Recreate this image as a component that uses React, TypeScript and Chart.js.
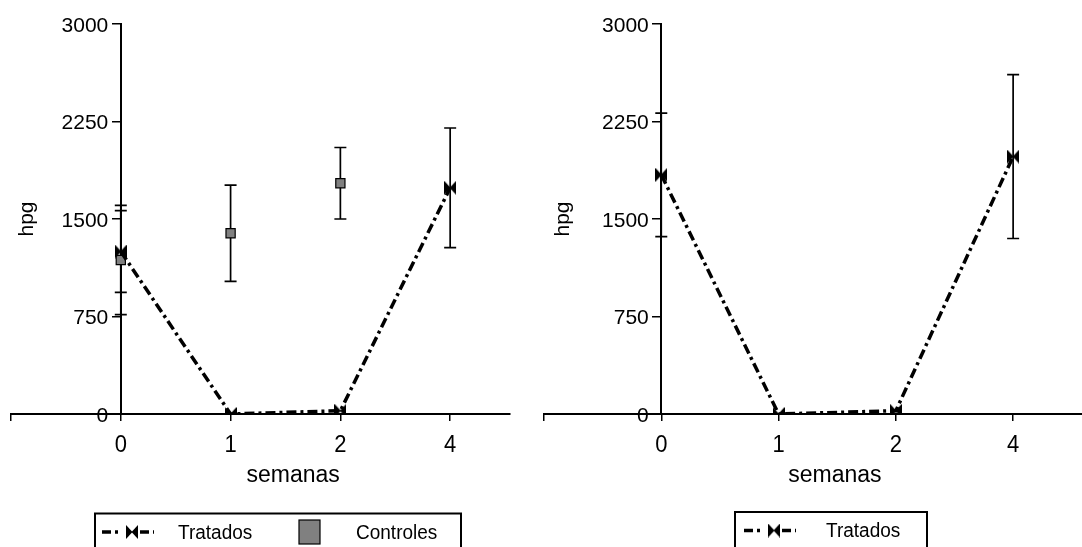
import React, { useEffect, useRef } from 'react';
import { Chart, registerables } from 'chart.js';

Chart.register(...registerables);

const FONT = '"Liberation Sans", Arial, Helvetica, sans-serif';

// ---- data ----
const weekLabels = ['0', '1', '2', '4'];
const weekPositions = [0, 1, 2, 3];
const yTickValues = [0, 750, 1500, 2250, 3000];

const leftTratados = [1250, 0, 25, 1740];
const leftTratadosErr = [315, 0, 0, 460];
const leftControles = [1185, 1390, 1775, null];
const leftControlesErr = [420, 370, 275, null];

const rightTratados = [1840, 0, 25, 1980];
const rightTratadosErr = [475, 0, 0, 630];

const xTitle = 'semanas';
const yTitle = 'hpg';

function makeBowtie(w: number, h: number) {
  const c = document.createElement('canvas');
  c.width = w;
  c.height = h;
  const ctx = c.getContext('2d')!;
  ctx.fillStyle = '#000';
  ctx.beginPath();
  ctx.moveTo(0, 0);
  ctx.lineTo(w / 2 + 0.5, h / 2);
  ctx.lineTo(0, h);
  ctx.closePath();
  ctx.fill();
  ctx.beginPath();
  ctx.moveTo(w, 0);
  ctx.lineTo(w / 2 - 0.5, h / 2);
  ctx.lineTo(w, h);
  ctx.closePath();
  ctx.fill();
  return c;
}

const DASH = [10, 4, 3, 4];

function drawText(ctx: any, text: string, x: number, y: number, size: number, sy: number, align: string) {
  ctx.save();
  ctx.font = `${size}px ${FONT}`;
  ctx.textAlign = align;
  ctx.textBaseline = 'alphabetic';
  ctx.translate(x, y);
  ctx.scale(1, sy);
  ctx.fillText(text, 0, 0);
  ctx.restore();
}

const errorBarPlugin = {
  id: 'errorBars',
  beforeDatasetsDraw(chart: any) {
    const ctx = chart.ctx;
    const yScale = chart.scales.y;
    ctx.save();
    ctx.strokeStyle = '#000';
    ctx.lineWidth = 1.7;
    chart.data.datasets.forEach((ds: any, di: number) => {
      const errs = ds.errors;
      if (!errs) return;
      const meta = chart.getDatasetMeta(di);
      meta.data.forEach((pt: any, i: number) => {
        const v = ds.data[i]?.y;
        const e = errs[i];
        if (v == null || e == null || e === 0) return;
        const x = pt.x;
        const yTop = yScale.getPixelForValue(v + e);
        const yBot = yScale.getPixelForValue(v - e);
        ctx.beginPath();
        ctx.moveTo(x, yTop);
        ctx.lineTo(x, yBot);
        ctx.moveTo(x - 6, yTop);
        ctx.lineTo(x + 6, yTop);
        ctx.moveTo(x - 6, yBot);
        ctx.lineTo(x + 6, yBot);
        ctx.stroke();
      });
    });
    ctx.restore();
  },
};

const titlesPlugin = {
  id: 'axisTitles',
  afterDraw(chart: any, _args: any, opts: any) {
    const ctx = chart.ctx;
    const { chartArea } = chart;
    const xs = chart.scales.x;
    const ys = chart.scales.y;
    ctx.save();
    ctx.fillStyle = '#000';
    // y tick labels
    const axisX = xs.getPixelForValue(0);
    ys.ticks.forEach((t: any) => {
      drawText(ctx, String(t.value), axisX - 12.5, ys.getPixelForValue(t.value) + 7.6, 21, 1.0, 'right');
    });
    // x tick labels
    xs.ticks.forEach((t: any) => {
      const i = weekPositions.indexOf(t.value);
      if (i < 0) return;
      drawText(ctx, weekLabels[i], xs.getPixelForValue(t.value), 451.5, 22, 1.08, 'center');
    });
    // x title
    drawText(ctx, xTitle, xs.getPixelForValue(opts.titleAt), 481.5, 23, 1.0, 'center');
    // y title
    ctx.translate(chartArea.left + opts.yTitleOffset, (chartArea.top + chartArea.bottom) / 2);
    ctx.rotate(-Math.PI / 2);
    ctx.font = `21px ${FONT}`;
    ctx.textAlign = 'center';
    ctx.textBaseline = 'middle';
    ctx.fillText(yTitle, 0, 0);
    ctx.restore();
  },
};

const boxLegendPlugin = {
  id: 'boxLegend',
  afterDraw(chart: any, _args: any, opts: any) {
    const ctx = chart.ctx;
    const { left, top, width, entries } = opts;
    ctx.save();
    ctx.strokeStyle = '#000';
    ctx.lineWidth = 2;
    ctx.strokeRect(left, top, width, chart.height - top + 10);
    const cy = top + 18.5;
    entries.forEach((en: any, i: number) => {
      const ds = chart.data.datasets[i];
      if (ds.showLine !== false) {
        ctx.save();
        ctx.lineWidth = 3.5;
        ctx.setLineDash([9, 4, 3, 22, 9, 4]);
        ctx.beginPath();
        ctx.moveTo(left + en.sample, cy);
        ctx.lineTo(left + en.sample + 52, cy);
        ctx.stroke();
        ctx.restore();
        const img = ds.pointStyle;
        ctx.drawImage(img, left + en.sample + 30 - img.width / 2, cy - img.height / 2);
      } else {
        ctx.fillStyle = ds.backgroundColor;
        ctx.fillRect(left + en.sample - 10.5, cy - 12, 21, 24);
        ctx.lineWidth = 1.2;
        ctx.strokeRect(left + en.sample - 10.5, cy - 12, 21, 24);
      }
      ctx.fillStyle = '#000';
      drawText(ctx, ds.label, left + en.text, top + 25, 19, 1.05, 'left');
    });
    ctx.restore();
  },
};

function toPoints(vals: (number | null)[]) {
  return vals.map((v, i) => ({ x: weekPositions[i], y: v }));
}

function makeConfig(datasets: any[], panel: any) {
  return {
    type: 'line',
    data: { datasets },
    options: {
      responsive: false,
      animation: false,
      events: [],
      layout: {
        padding: { left: panel.padLeft, right: panel.padRight, top: 24, bottom: 0 },
      },
      plugins: {
        legend: { display: false },
        tooltip: { enabled: false },
        boxLegend: panel.legend,
        axisTitles: { titleAt: panel.titleAt, yTitleOffset: panel.yTitleOffset },
      },
      scales: {
        x: {
          type: 'linear',
          min: -1,
          max: panel.xMax,
          afterBuildTicks: (s: any) => {
            s.ticks = [-1, ...weekPositions].map((v) => ({ value: v }));
          },
          afterFit: (s: any) => {
            s.height = 133;
          },
          ticks: { display: false },
          grid: { drawOnChartArea: false, drawTicks: true, tickLength: 7, color: '#000', lineWidth: 1.5 },
          border: { display: true, color: '#000', width: 2 },
        },
        y: {
          type: 'linear',
          min: 0,
          max: 3000,
          position: { x: 0 },
          afterBuildTicks: (s: any) => {
            s.ticks = yTickValues.map((v) => ({ value: v }));
          },
          ticks: { display: false },
          grid: { drawOnChartArea: false, drawTicks: true, tickLength: 8, color: '#000', lineWidth: 1.5 },
          border: { display: true, color: '#000', width: 2 },
        },
      },
    },
    plugins: [errorBarPlugin, titlesPlugin, boxLegendPlugin],
  };
}

export default function App() {
  const leftRef = useRef<HTMLCanvasElement>(null);
  const rightRef = useRef<HTMLCanvasElement>(null);

  useEffect(() => {
    const bow = makeBowtie(12, 14);
    const tratadosStyle = {
      type: 'line',
      borderColor: '#000',
      borderWidth: 3.5,
      borderDash: DASH,
      pointStyle: bow,
      pointRadius: 7,
      fill: false,
      tension: 0,
    };
    const leftChart = new Chart(
      leftRef.current!,
      makeConfig(
        [
          {
            ...tratadosStyle,
            label: 'Tratados',
            data: toPoints(leftTratados),
            errors: leftTratadosErr,
            order: 0,
          },
          {
            type: 'line',
            label: 'Controles',
            data: toPoints(leftControles),
            errors: leftControlesErr,
            showLine: false,
            pointStyle: 'rect',
            pointRadius: 6.5,
            backgroundColor: '#808080',
            borderColor: '#000',
            borderWidth: 1.2,
            order: 1,
          },
        ],
        {
          padLeft: 11,
          padRight: 31,
          xMax: 3.545,
          titleAt: 1.57,
          yTitleOffset: 16,
          legend: {
            left: 95,
            top: 513.5,
            width: 366,
            entries: [
              { sample: 7, text: 83 },
              { sample: 214.5, text: 261 },
            ],
          },
        }
      ) as any
    );
    const rightChart = new Chart(
      rightRef.current!,
      makeConfig(
        [
          {
            ...tratadosStyle,
            label: 'Tratados',
            data: toPoints(rightTratados),
            errors: rightTratadosErr,
          },
        ],
        {
          padLeft: 13,
          padRight: 10,
          xMax: 3.583,
          titleAt: 1.48,
          yTitleOffset: 19,
          legend: {
            left: 204,
            top: 512,
            width: 192,
            entries: [{ sample: 9, text: 91 }],
          },
        }
      ) as any
    );
    return () => {
      leftChart.destroy();
      rightChart.destroy();
    };
  }, []);

  return (
    <div style={{ position: 'absolute', left: 0, top: 0, width: 1082, height: 547, background: '#fff', overflow: 'hidden' }}>
      <canvas ref={leftRef} width={541} height={547} style={{ position: 'absolute', left: 0, top: 0 }} />
      <canvas ref={rightRef} width={561} height={547} style={{ position: 'absolute', left: 531, top: 0 }} />
    </div>
  );
}
